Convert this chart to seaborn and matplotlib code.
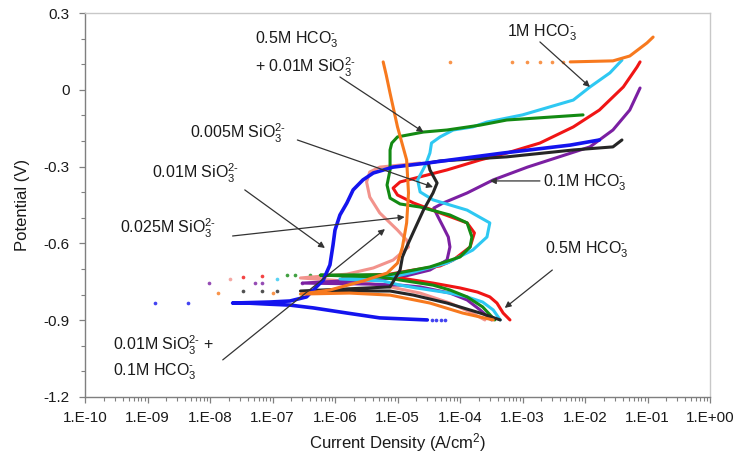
import numpy as np
import pandas as pd
import matplotlib
matplotlib.use("Agg")
import matplotlib.pyplot as plt
import matplotlib.ticker as mticker
import seaborn as sns

# ---------------- data (current density A/cm2, potential V) ----------------
red_i = [6.3e-4, 4.9e-4, 3.9e-4, 3.0e-4, 1.9e-4, 1.0e-4, 3.7e-5, 1.1e-5, 5.2e-6, 1.3e-6,
         7.6e-6, 1.8e-5, 4.8e-5, 7.8e-5, 1.45e-4, 1.7e-4, 1.3e-4, 4.8e-5, 1.8e-5, 1.0e-5,
         8.5e-6, 1.1e-5, 6.2e-5, 2.1e-4, 5.6e-4, 1.9e-3, 6.5e-3, 1.7e-2, 4.1e-2, 6.8e-2, 7.6e-2]
red_E = [-0.899, -0.872, -0.833, -0.809, -0.790, -0.774, -0.755, -0.735, -0.727, -0.729,
         -0.720, -0.704, -0.688, -0.665, -0.614, -0.559, -0.520, -0.481, -0.442, -0.411,
         -0.384, -0.360, -0.313, -0.274, -0.247, -0.208, -0.145, -0.079, 0.011, 0.089, 0.109]

cyan_i = [4.4e-4, 3.4e-4, 2.3e-4, 1.3e-4, 6.9e-5, 2.0e-5, 1.1e-5, 5.9e-6, 1.2e-6,
          8.5e-6, 1.8e-5, 6.2e-5, 1.6e-4, 2.7e-4, 3.0e-4, 1.3e-4, 3.7e-5, 2.3e-5, 2.1e-5,
          2.8e-5, 3.3e-5, 3.5e-5, 4.8e-5, 7.8e-5, 1.6e-4, 2.7e-4, 1.0e-3, 6.5e-3, 1.2e-2,
          2.5e-2, 3.9e-2]
cyan_E = [-0.899, -0.860, -0.829, -0.809, -0.794, -0.774, -0.763, -0.747, -0.739,
          -0.731, -0.712, -0.677, -0.626, -0.575, -0.520, -0.470, -0.430, -0.399, -0.352,
          -0.294, -0.247, -0.208, -0.184, -0.157, -0.145, -0.126, -0.098, -0.040, 0.011,
          0.066, 0.116]

green_i = [3.6e-4, 2.3e-4, 1.3e-4, 6.9e-5, 3.7e-5, 1.1e-5, 5.2e-6, 5.8e-7,
           7.6e-6, 3.3e-5, 1.0e-4, 1.45e-4, 1.55e-4, 1.3e-4, 6.9e-5, 2.3e-5, 1.1e-5,
           7.6e-6, 6.8e-6, 7.6e-6, 7.6e-6, 8.1e-6, 1.0e-5, 2.6e-5, 6.2e-5, 2.1e-4,
           5.6e-4, 9.3e-3]
green_E = [-0.899, -0.848, -0.809, -0.782, -0.763, -0.743, -0.731, -0.724,
           -0.722, -0.692, -0.653, -0.614, -0.575, -0.520, -0.489, -0.458, -0.446,
           -0.423, -0.372, -0.313, -0.235, -0.208, -0.184, -0.165, -0.157, -0.138,
           -0.118, -0.098]

purple_i = [3.2e-4, 2.1e-4, 1.3e-4, 6.9e-5, 2.3e-5, 1.1e-5, 3.6e-6, 3.0e-7,
            1.0e-5, 3.3e-5, 6.2e-5, 6.9e-5, 6.5e-5, 5.4e-5, 4.3e-5, 3.8e-5, 5.4e-5,
            1.3e-4, 3.4e-4, 1.2e-3, 1.2e-2, 2.8e-2, 5.2e-2, 7.6e-2]
purple_E = [-0.899, -0.860, -0.821, -0.794, -0.770, -0.763, -0.759, -0.755,
            -0.735, -0.704, -0.665, -0.614, -0.575, -0.536, -0.489, -0.462, -0.442,
            -0.403, -0.352, -0.302, -0.223, -0.157, -0.079, 0.007]

black_i = [4.4e-4, 2.1e-4, 6.2e-5, 1.8e-5, 7.6e-6, 2.8e-7,
           7.6e-6, 1.1e-5, 1.2e-5, 1.4e-5, 1.8e-5, 2.6e-5, 3.7e-5, 4.3e-5, 3.3e-5,
           3.1e-5, 4.8e-5, 5.6e-4, 6.5e-3, 2.8e-2, 3.9e-2]
black_E = [-0.899, -0.872, -0.833, -0.802, -0.786, -0.786,
           -0.770, -0.704, -0.653, -0.614, -0.555, -0.470, -0.403, -0.364, -0.313,
           -0.286, -0.278, -0.262, -0.235, -0.223, -0.196]

blue_i = [3.0e-5, 5.2e-6, 1.55e-6, 4.5e-7, 1.9e-7, 8.1e-8, 3.9e-8, 2.3e-8,
          9.1e-8, 1.9e-7, 3.5e-7, 6.5e-7, 8.3e-7, 9.3e-7, 1.0e-6, 1.2e-6, 1.55e-6,
          1.95e-6, 2.8e-6, 4.1e-6, 8.5e-6, 3.0e-5, 4.9e-4, 5.8e-3, 1.7e-2]
blue_E = [-0.899, -0.891, -0.872, -0.852, -0.841, -0.837, -0.833, -0.833,
          -0.829, -0.825, -0.809, -0.743, -0.684, -0.606, -0.548, -0.489, -0.442,
          -0.391, -0.352, -0.325, -0.302, -0.286, -0.247, -0.216, -0.196]

pink_i = [2.5e-4, 1.45e-4, 6.9e-5, 2.3e-5, 7.6e-6, 2.5e-6, 2.8e-7,
          1.55e-6, 4.1e-6, 8.5e-6, 1.2e-5, 1.5e-5, 1.4e-5, 1.0e-5, 5.2e-6, 3.6e-6,
          3.2e-6, 3.6e-6, 5.2e-6, 2.3e-5]
pink_E = [-0.899, -0.868, -0.833, -0.794, -0.770, -0.751, -0.735,
          -0.720, -0.696, -0.665, -0.634, -0.614, -0.587, -0.548, -0.481, -0.419,
          -0.360, -0.321, -0.302, -0.286]

orange_i = [3.4e-4, 1.1e-4, 3.3e-5, 7.6e-6, 1.7e-6, 2.8e-7,
            8.3e-7, 2.8e-6, 6.8e-6, 1.0e-5, 1.2e-5, 1.4e-5, 1.5e-5, 1.4e-5, 1.0e-5,
            7.6e-6, 6.6e-6, 5.9e-6]
orange_E = [-0.899, -0.872, -0.833, -0.802, -0.794, -0.798,
            -0.782, -0.747, -0.716, -0.677, -0.614, -0.520, -0.403, -0.274, -0.145,
            -0.013, 0.058, 0.109]
orange_hi_i = [5.8e-3, 2.8e-2, 5.2e-2, 9.8e-2, 1.23e-1]
orange_hi_E = [0.109, 0.113, 0.132, 0.183, 0.206]

# sparse points (isolated markers)
orange_jump_i = [6.9e-5, 6.8e-4, 1.2e-3, 1.9e-3, 3.0e-3, 4.5e-3]
orange_jump_E = [0.109, 0.109, 0.109, 0.109, 0.109, 0.109]
blue_dots_i = [1.3e-9, 4.5e-9, 3.6e-5, 4.2e-5, 4.9e-5, 5.8e-5]
blue_dots_E = [-0.833, -0.833, -0.899, -0.899, -0.899, -0.899]
purple_dots_i = [9.5e-9, 5.2e-8, 6.8e-8, 3.0e-7]
purple_dots_E = [-0.755, -0.755, -0.755, -0.755]
pink_dots_i = [2.1e-8]
pink_dots_E = [-0.739]
red_dots_i = [3.4e-8, 6.8e-8]
red_dots_E = [-0.731, -0.727]
black_dots_i = [3.4e-8, 6.8e-8, 1.17e-7]
black_dots_E = [-0.786, -0.786, -0.786]
orange_dots_i = [1.35e-8, 1.0e-7]
orange_dots_E = [-0.794, -0.794]
cyan_dots_i = [1.2e-7]
cyan_dots_E = [-0.739]
green_dots_i = [1.7e-7, 2.3e-7, 4.0e-7]
green_dots_E = [-0.724, -0.724, -0.724]

colors = {
    "pink": "#F2938C", "purple": "#7B1FA2", "red": "#F01515", "cyan": "#2EC8F2",
    "green": "#138A13", "black": "#262626", "blue": "#1414EE", "orange": "#F7791E",
}

# ---------------- styling ----------------
sns.set_theme(style="white")
plt.rcParams['font.family'] = ['Liberation Sans', 'DejaVu Sans']
plt.rcParams['mathtext.fontset'] = 'custom'
plt.rcParams['mathtext.rm'] = 'Liberation Sans'
plt.rcParams['mathtext.it'] = 'Liberation Sans'
plt.rcParams['mathtext.bf'] = 'Liberation Sans:bold'

fig = plt.figure(figsize=(7.37, 4.65), dpi=100)
ax = fig.add_axes([85 / 737, 1 - 397 / 465, 625 / 737, 384 / 465])
ax.set_xscale('log')

lines = [
    ("pink", pink_i, pink_E), ("purple", purple_i, purple_E), ("red", red_i, red_E),
    ("cyan", cyan_i, cyan_E), ("green", green_i, green_E), ("black", black_i, black_E),
    ("blue", blue_i, blue_E), ("orange", orange_i, orange_E), ("orange", orange_hi_i, orange_hi_E),
]
for name, xi, ye in lines:
    df = pd.DataFrame({"i": xi, "E": ye})
    sns.lineplot(data=df, x="i", y="E", sort=False, estimator=None, color=colors[name],
                 lw=2.6 if name == "blue" else 2.2, ax=ax, legend=False)

dots = [
    ("orange", orange_jump_i, orange_jump_E), ("blue", blue_dots_i, blue_dots_E),
    ("purple", purple_dots_i, purple_dots_E), ("pink", pink_dots_i, pink_dots_E),
    ("red", red_dots_i, red_dots_E), ("black", black_dots_i, black_dots_E),
    ("orange", orange_dots_i, orange_dots_E), ("cyan", cyan_dots_i, cyan_dots_E),
    ("green", green_dots_i, green_dots_E),
]
for name, xi, ye in dots:
    sns.scatterplot(x=xi, y=ye, color=colors[name], s=7, linewidth=0, alpha=0.8,
                    ax=ax, legend=False)

ax.set_xlim(1e-10, 1e0)
ax.set_ylim(-1.2, 0.3)
ax.xaxis.set_major_locator(mticker.LogLocator(base=10, numticks=20))
ax.xaxis.set_minor_locator(mticker.LogLocator(base=10, subs=np.arange(2, 10), numticks=20))
ax.xaxis.set_major_formatter(mticker.FuncFormatter(
    lambda v, p: "1.E%+03d" % int(round(np.log10(v)))))
ax.xaxis.set_minor_formatter(mticker.NullFormatter())
ax.yaxis.set_major_locator(mticker.MultipleLocator(0.3))
ax.yaxis.set_minor_locator(mticker.MultipleLocator(0.1))
ax.yaxis.set_major_formatter(mticker.FuncFormatter(
    lambda v, p: "0" if abs(v) < 1e-9 else "%.1f" % v))

ax.tick_params(axis='both', which='major', direction='out', length=4, width=0.9,
               color='#808080', labelsize=11, labelcolor='#1a1a1a', bottom=True, left=True)
ax.tick_params(axis='x', which='major', pad=6)
ax.tick_params(axis='y', which='major', pad=7)
ax.tick_params(axis='both', which='minor', direction='out', length=3, width=0.8,
               color='#808080', bottom=True, left=True)

for s in ['left', 'bottom']:
    ax.spines[s].set_color('#7f7f7f')
    ax.spines[s].set_linewidth(1.0)
for s in ['top', 'right']:
    ax.spines[s].set_color('#c8c8c8')
    ax.spines[s].set_linewidth(1.0)

ax.set_xlabel("Current Density (A/cm$^2$)", fontsize=12, color='#1a1a1a')
ax.set_ylabel("Potential (V)", fontsize=12, color='#1a1a1a')
ax.xaxis.set_label_coords(0.5, -0.088)
ax.yaxis.set_label_coords(-0.088, 0.5)

# ---------------- annotations ----------------
tkw = dict(fontsize=11.5, color='#1a1a1a', ha='left', va='center')
akw = dict(arrowstyle='-|>', color='#333333', lw=0.9, mutation_scale=9, shrinkA=0, shrinkB=0)

HCO = r"HCO$_3^{\text{-}}$"
SIO = r"SiO$_3^{2\text{-}}$"

ax.text(5.2e-8, 0.195, "0.5M " + HCO, **tkw)
ax.text(5.2e-8, 0.089, "+ 0.01M " + SIO, **tkw)
ax.annotate("", xy=(2.6e-5, -0.165), xytext=(1.2e-6, 0.05), arrowprops=akw)

ax.text(5.6e-4, 0.222, "1M " + HCO, **tkw)
ax.annotate("", xy=(1.2e-2, 0.011), xytext=(1.9e-3, 0.187), arrowprops=akw)

ax.text(4.8e-9, -0.169, "0.005M " + SIO, **tkw)
ax.annotate("", xy=(3.7e-5, -0.380), xytext=(2.5e-7, -0.196), arrowprops=akw)

ax.text(1.2e-9, -0.325, "0.01M " + SIO, **tkw)
ax.annotate("", xy=(6.9e-7, -0.618), xytext=(3.6e-8, -0.391), arrowprops=akw)

ax.text(3.6e-10, -0.540, "0.025M " + SIO, **tkw)
ax.annotate("", xy=(1.3e-5, -0.497), xytext=(2.3e-8, -0.571), arrowprops=akw)

ax.text(2.8e-10, -0.997, "0.01M " + SIO + " +", **tkw)
ax.text(2.8e-10, -1.102, "0.1M " + HCO, **tkw)
ax.annotate("", xy=(6.3e-6, -0.544), xytext=(1.6e-8, -1.055), arrowprops=akw)

ax.text(2.1e-3, -0.364, "0.1M " + HCO, **tkw)
ax.annotate("", xy=(3.0e-4, -0.356), xytext=(1.9e-3, -0.356), arrowprops=akw)

ax.text(2.3e-3, -0.626, "0.5M " + HCO, **tkw)
ax.annotate("", xy=(5.2e-4, -0.852), xytext=(3.0e-3, -0.704), arrowprops=akw)

fig.savefig("out.png", dpi=100)
